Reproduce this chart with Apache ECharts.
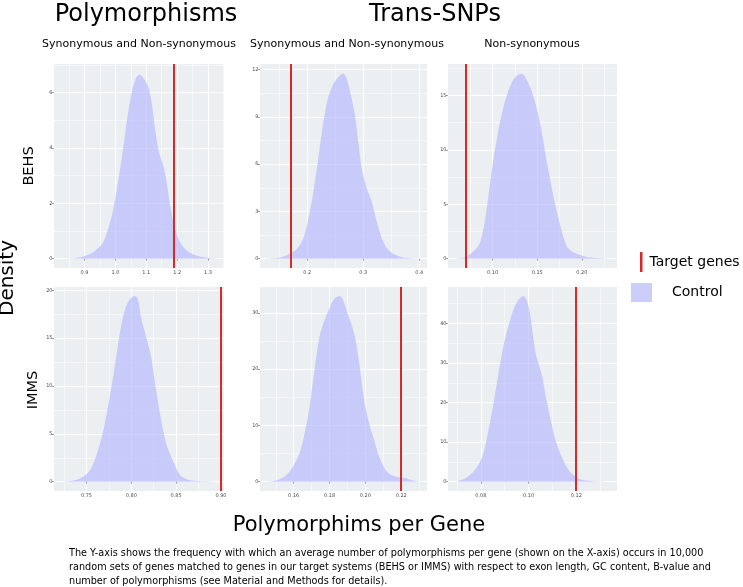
<!DOCTYPE html>
<html><head><meta charset="utf-8">
<script src="https://cdn.jsdelivr.net/npm/echarts@6/dist/echarts.min.js"></script>
<style>html,body{margin:0;padding:0;background:#fff}#c{width:743px;height:587px}</style>
</head><body><div id="c"></div>
<script>
// ---- Data ----
// BEHS, Polymorphisms, Synonymous and Non-synonymous
const behsPolyX = [0.821,0.865,0.897,0.930,0.957,0.973,0.989,1.005,1.022,1.038,1.054,1.068,1.079,1.092,1.108,1.119,1.130,1.141,1.155,1.166,1.177,1.190,1.206,1.228,1.255,1.287,1.328];
const behsPolyY = [0,0.02,0.08,0.25,0.54,0.96,1.58,2.54,3.74,5.05,6.07,6.55,6.65,6.51,6.17,5.53,4.57,3.86,3.38,2.78,1.94,1.22,0.68,0.32,0.14,0.05,0];
// BEHS, Trans-SNPs, Synonymous and Non-synonymous
const behsTransX = [0.126,0.144,0.156,0.168,0.180,0.192,0.201,0.210,0.219,0.228,0.237,0.246,0.255,0.264,0.270,0.279,0.285,0.291,0.297,0.306,0.315,0.324,0.333,0.342,0.354,0.372,0.402];
const behsTransY = [0,0.04,0.13,0.30,0.57,1.20,2.37,4.06,6.18,8.50,10.2,11.05,11.5,11.75,11.47,10.2,9.14,7.45,5.76,4.49,3.64,2.37,1.31,0.68,0.30,0.08,0];
// BEHS, Trans-SNPs, Non-synonymous
const behsNonX = [0.0584,0.0689,0.0764,0.0839,0.0876,0.0914,0.0951,0.1007,0.1064,0.1120,0.1176,0.1232,0.1288,0.1333,0.1382,0.1438,0.1494,0.1550,0.1607,0.1663,0.1719,0.1775,0.1831,0.1888,0.1963,0.2075,0.2300];
const behsNonY = [0,0.12,0.52,1.13,1.9,3.43,5.57,8.94,11.69,13.84,15.37,16.44,16.9,16.99,16.44,15.37,13.84,11.69,8.94,6.49,4.35,2.51,1.13,0.67,0.37,0.12,0];
// IMMS, Polymorphisms, Synonymous and Non-synonymous
const immsPolyX = [0.7224,0.7343,0.7437,0.7530,0.7586,0.7642,0.7698,0.7754,0.7810,0.7866,0.7922,0.7978,0.8034,0.8071,0.8108,0.8164,0.8220,0.8276,0.8332,0.8388,0.8444,0.8500,0.8556,0.8631,0.8761,0.8948];
const immsPolyY = [0,0.1,0.38,1.08,2.12,3.69,5.77,8.56,11.69,15.17,17.77,18.99,19.41,19.16,17.25,15.17,13.08,9.6,6.47,4.03,2.64,1.43,0.56,0.21,0.07,0];
// IMMS, Trans-SNPs, Synonymous and Non-synonymous
const immsTransX = [0.1449,0.1504,0.1559,0.1596,0.1633,0.1661,0.1689,0.1716,0.1744,0.1772,0.1799,0.1827,0.1855,0.1873,0.1901,0.1938,0.1966,0.1993,0.2021,0.2049,0.2076,0.2113,0.2150,0.2187,0.2224,0.2261,0.2307];
const immsTransY = [0,0.2,1.2,2.7,5.1,8.6,13.3,19.8,25.8,28.7,30.8,32.5,33.0,32.5,29.9,26.3,21.0,14.5,10.4,7.4,4.5,2.1,1.1,0.8,0.65,0.24,0];
// IMMS, Trans-SNPs, Non-synonymous
const immsNonX = [0.0696,0.0735,0.0763,0.0790,0.0811,0.0832,0.0853,0.0874,0.0894,0.0915,0.0936,0.0957,0.0978,0.0992,0.1006,0.1019,0.1033,0.1054,0.1075,0.1096,0.1117,0.1138,0.1158,0.1179,0.1207,0.1249,0.1332];
const immsNonY = [0,0.9,2.2,4.3,7.2,13.1,19.8,27.4,34.1,39.2,43.4,45.9,46.9,45.9,42.5,36.6,31.6,27.4,20.7,14.8,9.7,6.4,3.9,2.2,0.9,0.25,0];
// Target gene values (red lines), same panel order
const targetValues = [1.186, 0.167, 0.0734, 0.895, 0.220, 0.1154];
// Tick labels
const xTicks1 = ['0.9','1.0','1.1','1.2','1.3'];
const yTicks1 = ['0','2','4','6'];
const xTicks2 = ['0.2','0.3','0.4'];
const yTicks2 = ['0','3','6','9','12'];
const xTicks3 = ['0.10','0.15','0.20'];
const yTicks3 = ['0','5','10','15'];
const xTicks4 = ['0.75','0.80','0.85','0.90'];
const yTicks4 = ['0','5','10','15','20'];
const xTicks5 = ['0.16','0.18','0.20','0.22'];
const yTicks5 = ['0','10','20','30'];
const xTicks6 = ['0.08','0.10','0.12'];
const yTicks6 = ['0','10','20','30','40'];

// ---- Layout ----
const FF = 'DejaVu Sans';
const RED = '#D42A2A';
const FILL = 'rgba(176,176,255,0.6)';
const panels = [
  {xs:behsPolyX, ys:behsPolyY, xt:xTicks1, yt:yTicks1, xr:[0.801,1.352], xi:0.1, yr:[-0.335,7.035], yi:2, g:{left:54,top:64,width:170,height:204}},
  {xs:behsTransX, ys:behsTransY, xt:xTicks2, yt:yTicks2, xr:[0.1156,0.4138], xi:0.1, yr:[-0.59,12.36], yi:3, g:{left:260,top:64,width:167,height:204}},
  {xs:behsNonX, ys:behsNonY, xt:xTicks3, yt:yTicks3, xr:[0.0502,0.2393], xi:0.05, yr:[-0.86,17.88], yi:5, g:{left:448,top:64,width:169,height:204}},
  {xs:immsPolyX, ys:immsPolyY, xt:xTicks4, yt:yTicks4, xr:[0.7138,0.9034], xi:0.05, yr:[-0.97,20.35], yi:5, g:{left:54,top:287,width:170,height:204}},
  {xs:immsTransX, ys:immsTransY, xt:xTicks5, yt:yTicks5, xr:[0.1412,0.2344], xi:0.02, yr:[-1.65,34.6], yi:10, g:{left:260,top:287,width:167,height:204}},
  {xs:immsNonX, ys:immsNonY, xt:xTicks6, yt:yTicks6, xr:[0.0662,0.1371], xi:0.02, yr:[-2.35,49.2], yi:10, g:{left:448,top:287,width:169,height:204}}
];

function axis(ticks, range, iv, isX) {
  const dec = (ticks[0].split('.')[1] || '').length;
  return {
    type:'value', min:range[0], max:range[1], minInterval:iv, maxInterval:iv, splitNumber:5,
    axisLine:{show:false},
    axisTick:{show:true, length:2, lineStyle:{color:'#888', width:0.8}, customValues: ticks.map(Number)},
    axisLabel:{show:true, fontSize:5, color:'#4d4d4d', fontFamily:FF, margin:isX?2:1.5,
      customValues: ticks.map(Number), showMinLabel:true, showMaxLabel:true,
      formatter: v => { const s = Number(v).toFixed(dec); return ticks.includes(s) ? s : ''; }},
    splitLine:{show:true, lineStyle:{color:'#ffffff', width:1}},
    minorTick:{show:false, splitNumber:2},
    minorSplitLine:{show:true, lineStyle:{color:'#ffffff', width:0.5}}
  };
}

const grids = [], xAxes = [], yAxes = [], series = [];
panels.forEach((p, i) => {
  grids.push(Object.assign({show:true, backgroundColor:'#EBEFF1', borderWidth:0, containLabel:false}, p.g));
  xAxes.push(Object.assign({gridIndex:i}, axis(p.xt, p.xr, p.xi, true)));
  yAxes.push(Object.assign({gridIndex:i}, axis(p.yt, p.yr, p.yi, false)));
  series.push({
    name:'Control', type:'line', xAxisIndex:i, yAxisIndex:i,
    data: p.xs.map((x, k) => [x, p.ys[k]]),
    smooth:0.3, symbol:'none', showSymbol:false,
    lineStyle:{width:0}, itemStyle:{color:'#CDCDFA'}, areaStyle:{color:FILL, opacity:1}
  });
  series.push({
    name:'Target genes', type:'line', xAxisIndex:i, yAxisIndex:i, data:[],
    itemStyle:{color:RED},
    markLine:{silent:true, symbol:['none','none'], label:{show:false},
      lineStyle:{color:RED, width:2, type:'solid'}, emphasis:{disabled:true},
      data:[{xAxis: targetValues[i]}]}
  });
});

const captionLines = [
  'The Y-axis shows the frequency with which an average number of polymorphisms per gene (shown on the X-axis) occurs in 10,000',
  'random sets of genes matched to genes in our target systems (BEHS or IMMS) with respect to exon length, GC content, B-value and',
  'number of polymorphisms (see Material and Methods for details).'
];

function txt(text, x, y, size, opts) {
  return Object.assign({type:'text', x:x, y:y, silent:true,
    style:{text:text, fontSize:size, fontFamily:FF, fill:'#000', align:'center', verticalAlign:'middle'}}, opts || {});
}

const chart = echarts.init(document.getElementById('c'), null, {renderer:'canvas'});
chart.setOption({
  animation:false,
  backgroundColor:'#ffffff',
  grid: grids, xAxis: xAxes, yAxis: yAxes, series: series,
  legend: [
    {data:[{name:'Target genes', icon:'rect', itemStyle:{color:RED}}], left:640, top:252, orient:'vertical',
     itemWidth:2.5, itemHeight:20, padding:0, selectedMode:false,
     textStyle:{fontSize:14, fontFamily:FF, color:'#000', padding:[0,0,0,2]}},
    {data:[{name:'Control', icon:'rect', itemStyle:{color:'#CDCDFA'}}], left:631, top:283, orient:'vertical',
     itemWidth:21, itemHeight:19, padding:0, selectedMode:false,
     textStyle:{fontSize:14, fontFamily:FF, color:'#000', padding:[0,0,0,15]}}
  ],
  graphic: [
    txt('Polymorphisms', 146, 15, 24),
    txt('Trans-SNPs', 435, 15, 24),
    txt('Synonymous and Non-synonymous', 139, 44, 11),
    txt('Synonymous and Non-synonymous', 347, 44, 11),
    txt('Non-synonymous', 532, 44, 11),
    txt('BEHS', 29, 166, 14.5, {rotation:Math.PI/2}),
    txt('IMMS', 33, 390, 14.5, {rotation:Math.PI/2}),
    txt('Density', 8, 278, 20, {rotation:Math.PI/2}),
    txt('Polymorphims per Gene', 359, 526, 21),
    {type:'text', x:69, y:546, silent:true,
     style:{text:captionLines.join('\n'), fontSize:9.7, lineHeight:14, fontFamily:FF, fill:'#000', align:'left', verticalAlign:'top'}}
  ]
});
</script>
</body></html>
